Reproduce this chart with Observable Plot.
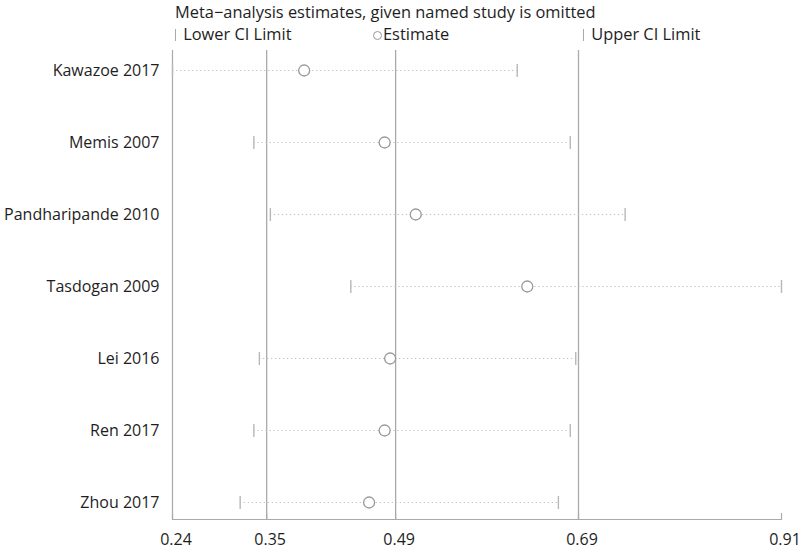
<!DOCTYPE html>
<html>
<head>
<meta charset="utf-8">
<script src="https://cdn.jsdelivr.net/npm/d3@7"></script>
<script src="https://cdn.jsdelivr.net/npm/@observablehq/plot@0.6"></script>
<style>
  body { margin: 0; background: #fff; font-family: "Open Sans", sans-serif; color: #1e1e1e; }
  #wrap { width: 800px; }
  #head { position: relative; height: 48px; font-size: 16.4px; }
  #head .t { position: absolute; white-space: nowrap; line-height: 20px; }
  .bar { display: inline-block; width: 1.2px; height: 12px; background: #aaa; vertical-align: -1px; margin-right: 7px; }
  .circ { display: inline-block; width: 9px; height: 9px; border: 1px solid #999; border-radius: 50%; vertical-align: 0px; margin-right: 1px; box-sizing: border-box; }
</style>
</head>
<body>
<div id="wrap">
  <div id="head">
    <div class="t" style="left:175px; top:2px;">Meta−analysis estimates, given named study is omitted</div>
    <div class="t" style="left:175px; top:24px;"><span class="bar"></span>Lower CI Limit</div>
    <div class="t" style="left:373px; top:24px;"><span class="circ"></span>Estimate</div>
    <div class="t" style="left:583px; top:24px;"><span class="bar"></span>Upper CI Limit</div>
  </div>
  <div id="chart"></div>
</div>
<script>
const studies  = ["Kawazoe 2017", "Memis 2007", "Pandharipande 2010", "Tasdogan 2009", "Lei 2016", "Ren 2017", "Zhou 2017"];
const estimate = [0.388, 0.476, 0.510, 0.632, 0.482, 0.476, 0.459];
const lower    = [0.244, 0.333, 0.351, 0.439, 0.339, 0.333, 0.318];
const upper    = [0.621, 0.679, 0.739, 0.910, 0.685, 0.679, 0.666];
const refLines = [0.347, 0.488, 0.688];           // overall lower CI, estimate, upper CI
const tickValues = [0.244, 0.347, 0.488, 0.688, 0.910];
const xDomain = [0.244, 0.910];

const data = studies.map((s, i) => ({study: s, est: estimate[i], lo: lower[i], hi: upper[i]}));

// vertical-bar symbol for CI end caps
const vbar = {draw(context, size) { const h = Math.sqrt(size / Math.PI); context.moveTo(0, -h); context.lineTo(0, h); }};

const plot = Plot.plot({
  width: 800,
  height: 501,
  marginLeft: 172,
  marginRight: 19,
  marginTop: 2,
  marginBottom: 30,
  style: {fontFamily: "Open Sans, sans-serif", fontSize: "16px", color: "#1e1e1e", background: "#fff"},
  x: {domain: xDomain, label: null},
  y: {type: "point", domain: studies, padding: 0, insetTop: 19, insetBottom: 16, label: null},
  marks: [
    Plot.frame({anchor: "bottom", stroke: "#aaa", strokeWidth: 1.2}),
    Plot.ruleX([xDomain[0]], {stroke: "#aaa", strokeWidth: 1.2}),
    Plot.ruleX(refLines, {stroke: "#aaa", strokeWidth: 1.3}),
    Plot.ruleY(data, {y: "study", x1: "lo", x2: "hi", stroke: "#c4c4c4", strokeWidth: 1.2, strokeDasharray: "1.4,2.6"}),
    Plot.dot(data, {x: "lo", y: "study", symbol: vbar, r: 6.5, stroke: "#b8b8b8", strokeWidth: 1.4, fill: "none"}),
    Plot.dot(data, {x: "hi", y: "study", symbol: vbar, r: 6.5, stroke: "#b8b8b8", strokeWidth: 1.4, fill: "none"}),
    Plot.dot(data, {x: "est", y: "study", r: 5.5, stroke: "#999", strokeWidth: 1.3, fill: "white"}),
    Plot.axisX({ticks: tickValues, tickSize: 0, tickPadding: 14, tickFormat: d => d.toFixed(2), dx: 3.5, fontSize: 16, fill: "#1e1e1e", label: null}),
    Plot.axisX({ticks: tickValues, tickSize: -6, tickFormat: () => "", stroke: "#aaa", strokeWidth: 1.2, label: null}),
    Plot.axisY({tickSize: 0, tickPadding: 13, fontSize: 16, fill: "#1e1e1e", label: null})
  ]
});
document.getElementById("chart").appendChild(plot);
</script>
</body>
</html>
